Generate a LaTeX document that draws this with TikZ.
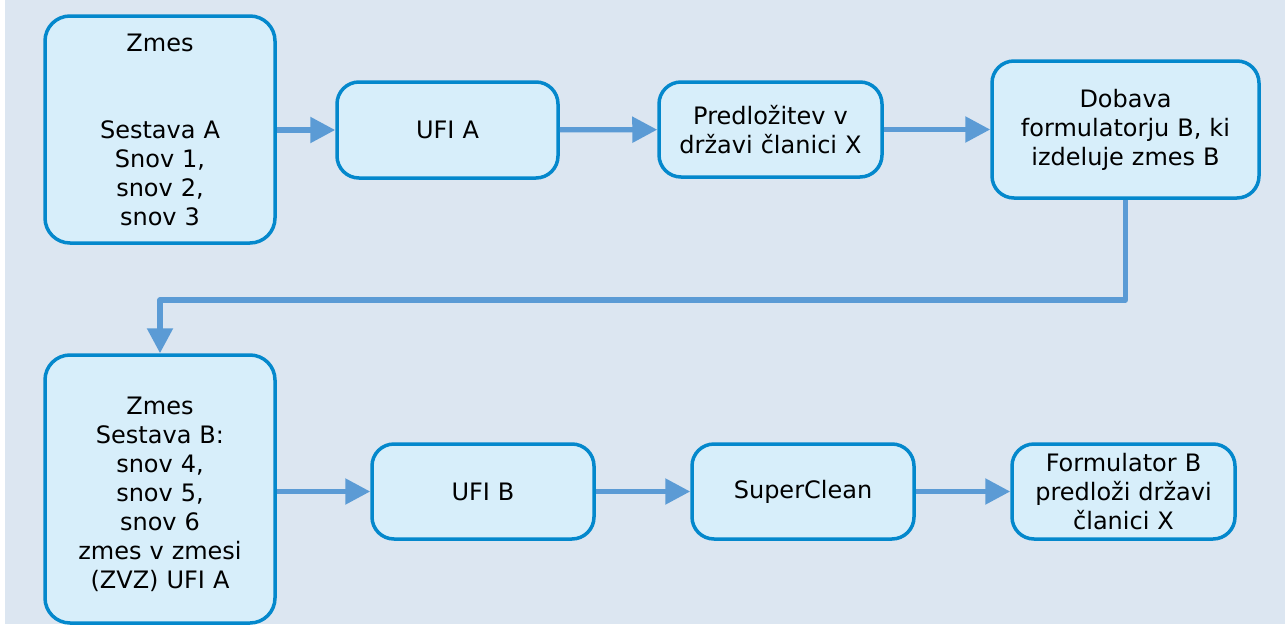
\documentclass[tikz,border=0pt]{standalone}
\usepackage{fontspec}
\setmainfont{DejaVu Sans}
\usetikzlibrary{arrows.meta}
\definecolor{bgc}{RGB}{220,230,241}
\definecolor{boxfill}{RGB}{215,238,250}
\definecolor{boxline}{RGB}{4,136,204}
\definecolor{flow}{RGB}{91,155,213}
\tikzset{
  boxtext/.style={align=center, inner sep=0pt, text=black,
    font=\fontsize{24pt}{29pt}\selectfont},
  stepbox/.style={boxtext, draw=boxline, fill=boxfill, line width=3.5pt, rounded corners=22pt},
  flowline/.style={draw=flow, line width=5.3pt, -{Triangle[length=25pt,width=25pt]}, line join=round}
}
\begin{document}
\begin{tikzpicture}[x=1pt,y=-1pt]
  % page and panel background
  \fill[white] (0,0) rectangle (1285,624);
  \fill[bgc] (5,0) rectangle (1285,624);
  \useasboundingbox (0,0) rectangle (1285,624);

  % upper row
  \node[stepbox, text width=230pt, minimum height=227pt, rounded corners=25pt] (mixA) at (160,129.5)
    {Zmes\\\mbox{}\\\mbox{}\\Sestava A\\Snov 1,\\snov 2,\\snov 3};
  \node[stepbox, text width=221pt, minimum height=96pt] (ufiA) at (447.5,130) {UFI A};
  \node[stepbox, text width=223pt, minimum height=95pt] (submit) at (770.5,129.5)
    {Predložitev v\\državi članici X};
  \node[stepbox, text width=267pt, minimum height=137pt] (supply) at (1125.5,129.5)
    {Dobava\\formulatorju B, ki\\izdeluje zmes B};

  % lower row
  \node[stepbox, text width=230pt, minimum height=268pt, rounded corners=25pt] (mixB) at (160,489) {};
  \node[boxtext, text width=230pt] (mixBtext) at ([yshift=-5pt]mixB.center)
    {Zmes\\Sestava B:\\snov 4,\\snov 5,\\snov 6\\zmes v zmesi\\(ZVZ) UFI A};
  \node[stepbox, text width=222pt, minimum height=95pt] (ufiB) at (483,491.5) {UFI B};
  \node[stepbox, text width=222pt, minimum height=95pt] (clean) at (803,491.5) {SuperClean};
  \node[stepbox, text width=223pt, minimum height=95pt] (formB) at (1123.5,491.5)
    {Formulator B\\predloži državi\\članici X};

  % connectors
  \draw[flowline] (mixA.east |- ufiA.west) -- (ufiA.west);
  \draw[flowline] (ufiA) -- (submit);
  \draw[flowline] (submit) -- (supply.west |- submit.east);
  \coordinate (turn) at (600,300);
  \draw[flowline] (supply.south) |- (turn) -| (mixB.north);
  \draw[flowline] (mixB.east |- ufiB.west) -- (ufiB.west);
  \draw[flowline] (ufiB) -- (clean);
  \draw[flowline] (clean) -- (formB);
\end{tikzpicture}
\end{document}
